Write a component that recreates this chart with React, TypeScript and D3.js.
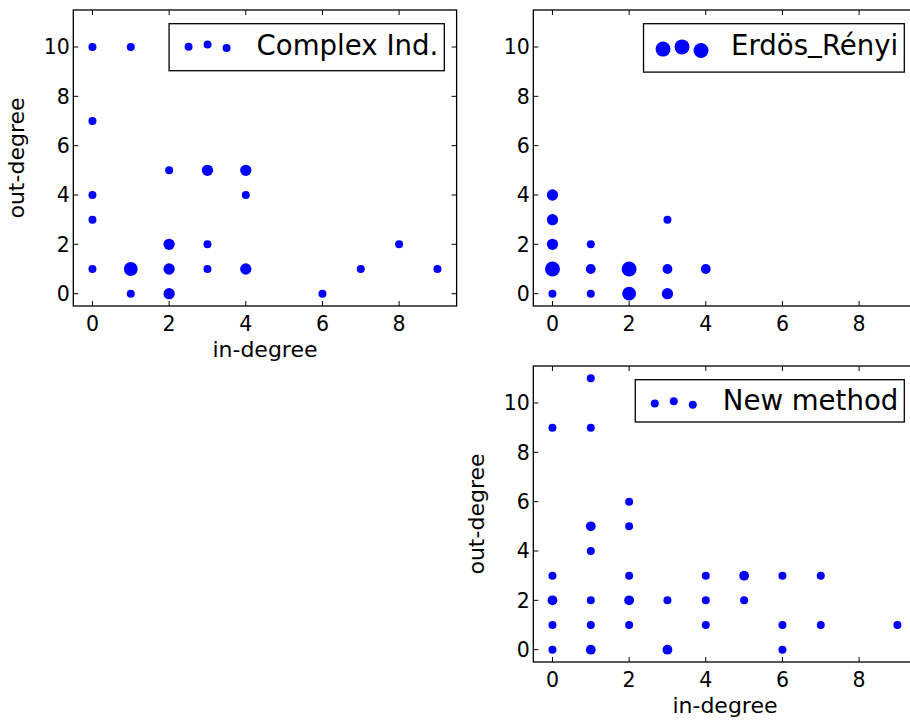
import React, { useEffect, useRef } from 'react';
import * as d3 from 'd3';

// Shared tick values
const xTicks = [0, 2, 4, 6, 8];
const yTicks = [0, 2, 4, 6, 8, 10];

// Complex Ind.: (in-degree, out-degree) pairs and how many nodes share each pair
const complexIn = [0, 1, 0, 0, 0, 0, 1, 1, 2, 2, 2, 2, 3, 3, 3, 4, 4, 4, 6, 7, 8, 9];
const complexOut = [10, 10, 7, 4, 3, 1, 1, 0, 5, 2, 1, 0, 5, 2, 1, 5, 4, 1, 0, 1, 2, 1];
const complexCount = [2, 2, 2, 2, 2, 2, 6, 2, 2, 4, 4, 4, 4, 2, 2, 4, 2, 4, 2, 2, 2, 2];

// Erdös_Rényi
const erdosIn = [0, 0, 0, 0, 0, 1, 1, 1, 2, 2, 3, 3, 3, 4];
const erdosOut = [1, 4, 3, 2, 0, 2, 1, 0, 1, 0, 3, 1, 0, 1];
const erdosCount = [7, 4, 4, 4, 2, 2, 3, 2, 7, 6, 2, 3, 4, 3];

// New method
const newIn = [0, 1, 1, 2, 1, 2, 1, 0, 2, 4, 5, 6, 7, 0, 1, 2, 3, 4, 5, 0, 1, 2, 4, 6, 7, 9, 0, 1, 3, 6];
const newOut = [9, 11, 9, 6, 5, 5, 4, 3, 3, 3, 3, 3, 3, 2, 2, 2, 2, 2, 2, 1, 1, 1, 1, 1, 1, 1, 0, 0, 0, 0];
const newCount = [2, 2, 2, 2, 3, 2, 2, 2, 2, 2, 3, 2, 2, 3, 2, 3, 2, 2, 2, 2, 2, 2, 2, 2, 2, 2, 2, 3, 3, 2];

const FONT = "'DejaVu Sans', sans-serif";
const BLUE = '#0000ff';

const AX_W = 383.3;
const AX_H = 296;

type Panel = {
  label: string;
  xs: number[];
  ys: number[];
  counts: number[];
  left: number;
  top: number;
  showXLabel: boolean;
  showYLabel: boolean;
  legendHeight: number;
  legendMarkerY: number;
  legendTextY: number;
};

const panels: Panel[] = [
  {
    label: 'Complex Ind.', xs: complexIn, ys: complexOut, counts: complexCount,
    left: 73.3, top: 10, showXLabel: true, showYLabel: true,
    legendHeight: 47, legendMarkerY: 23, legendTextY: 31,
  },
  {
    label: 'Erdös_Rényi', xs: erdosIn, ys: erdosOut, counts: erdosCount,
    left: 533.3, top: 10, showXLabel: false, showYLabel: false,
    legendHeight: 48.4, legendMarkerY: 25.4, legendTextY: 31.7,
  },
  {
    label: 'New method', xs: newIn, ys: newOut, counts: newCount,
    left: 533.3, top: 366, showXLabel: true, showYLabel: true,
    legendHeight: 42.3, legendMarkerY: 23.7, legendTextY: 30.7,
  },
];

// horizontal placement and vertical jitter of the three legend handle points
const handleDx = [19.5, 38.5, 57.5];
const handleDy = [0, -2.2, 1.4];

export default function App() {
  const ref = useRef<SVGSVGElement | null>(null);

  useEffect(() => {
    const svg = d3.select(ref.current);
    svg.selectAll('*').remove();

    const r = d3.scaleSqrt().domain([0, 2]).range([0, 4]);

    panels.forEach((p) => {
      const x = d3.scaleLinear().domain([-0.5, 9.5]).range([p.left, p.left + AX_W]);
      const y = d3.scaleLinear().domain([-0.5, 11.5]).range([p.top + AX_H, p.top]);
      const g = svg.append('g');
      const bottom = p.top + AX_H;
      const right = p.left + AX_W;

      // points
      g.selectAll('circle.pt')
        .data(p.xs.map((v, i) => ({ x: v, y: p.ys[i], c: p.counts[i] })))
        .join('circle')
        .attr('class', 'pt')
        .attr('cx', (d) => x(d.x))
        .attr('cy', (d) => y(d.y))
        .attr('r', (d) => r(d.c))
        .attr('fill', BLUE);

      // ticks (inward, on all four sides)
      const tl = 5;
      xTicks.forEach((t) => {
        g.append('line').attr('x1', x(t)).attr('x2', x(t)).attr('y1', bottom).attr('y2', bottom - tl)
          .attr('stroke', '#000').attr('stroke-width', 1);
        g.append('line').attr('x1', x(t)).attr('x2', x(t)).attr('y1', p.top).attr('y2', p.top + tl)
          .attr('stroke', '#000').attr('stroke-width', 1);
        g.append('text').attr('x', x(t)).attr('y', bottom + 24.5).attr('text-anchor', 'middle')
          .attr('font-family', FONT).attr('font-size', 20.5).attr('fill', '#000').text(String(t));
      });
      yTicks.forEach((t) => {
        g.append('line').attr('x1', p.left).attr('x2', p.left + tl).attr('y1', y(t)).attr('y2', y(t))
          .attr('stroke', '#000').attr('stroke-width', 1);
        g.append('line').attr('x1', right).attr('x2', right - tl).attr('y1', y(t)).attr('y2', y(t))
          .attr('stroke', '#000').attr('stroke-width', 1);
        g.append('text').attr('x', p.left - 3.5).attr('y', y(t)).attr('dy', '0.36em').attr('text-anchor', 'end')
          .attr('font-family', FONT).attr('font-size', 20.5).attr('fill', '#000').text(String(t));
      });

      // frame
      g.append('rect').attr('x', p.left).attr('y', p.top).attr('width', AX_W).attr('height', AX_H)
        .attr('fill', 'none').attr('stroke', '#000').attr('stroke-width', 1.3);

      if (p.showXLabel) {
        g.append('text').attr('x', p.left + AX_W / 2).attr('y', bottom + 50.7).attr('text-anchor', 'middle')
          .attr('font-family', FONT).attr('font-size', 22).attr('fill', '#000').text('in-degree');
      }
      if (p.showYLabel) {
        g.append('text')
          .attr('transform', `translate(${p.left - 49.3},${p.top + AX_H / 2}) rotate(-90)`)
          .attr('text-anchor', 'middle')
          .attr('font-family', FONT).attr('font-size', 22).attr('fill', '#000').text('out-degree');
      }

      // legend
      const lg = g.append('g');
      const boxRight = right - 12.3;
      const boxTop = p.top + 13.7;
      const rect = lg.append('rect');
      const txt = lg.append('text')
        .attr('font-family', FONT).attr('font-size', 27.6).attr('fill', '#000')
        .attr('y', boxTop + p.legendTextY);
      // underscores sit on the baseline, as in mathtext rendering
      const parts = p.label.split('_');
      parts.forEach((part, i) => {
        if (i > 0) {
          txt.append('tspan').attr('dy', -4).text('_');
          txt.append('tspan').attr('dy', 4).text(part);
        } else {
          txt.append('tspan').text(part);
        }
      });
      const len = (txt.node() as SVGTextElement).getComputedTextLength();
      const textX = boxRight - 6 - len;
      const boxLeft = textX - 87.5;
      txt.attr('x', textX);
      rect.attr('x', boxLeft).attr('y', boxTop).attr('width', boxRight - boxLeft).attr('height', p.legendHeight)
        .attr('fill', '#fff').attr('stroke', '#000').attr('stroke-width', 1.3);
      handleDx.forEach((dx, i) => {
        lg.append('circle').attr('cx', boxLeft + dx).attr('cy', boxTop + p.legendMarkerY + handleDy[i])
          .attr('r', r(p.counts[0])).attr('fill', BLUE);
      });
    });
  }, []);

  return (
    <svg
      ref={ref}
      width={910}
      height={720}
      style={{ position: 'absolute', left: 0, top: 0, background: '#fff' }}
    />
  );
}
